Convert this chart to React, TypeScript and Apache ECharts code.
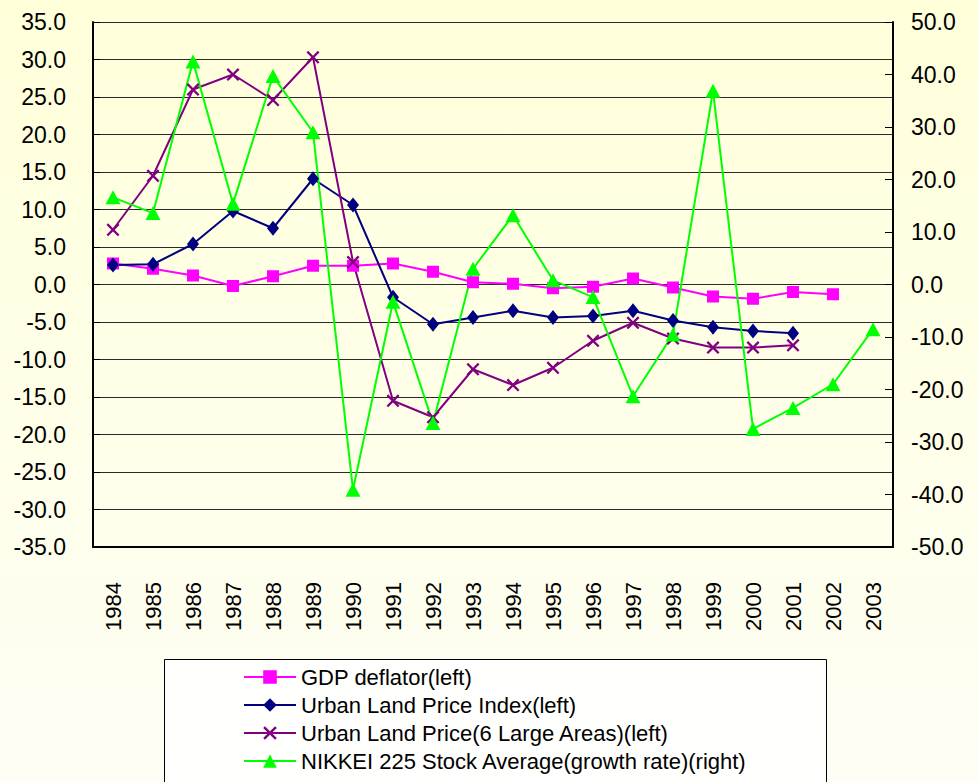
import React, { useEffect, useRef } from "react";
import * as echarts from "echarts";

const years = ["1984","1985","1986","1987","1988","1989","1990","1991","1992","1993","1994","1995","1996","1997","1998","1999","2000","2001","2002","2003"];
const gdpDeflator = [2.8, 2.1, 1.2, -0.2, 1.1, 2.5, 2.5, 2.8, 1.7, 0.3, 0.1, -0.5, -0.3, 0.8, -0.4, -1.6, -1.9, -1.0, -1.3, null];
const landIndex = [2.6, 2.7, 5.4, 9.8, 7.5, 14.1, 10.6, -1.7, -5.3, -4.4, -3.5, -4.4, -4.2, -3.5, -4.8, -5.7, -6.2, -6.5, null, null];
const land6Areas = [7.3, 14.5, 26.0, 28.0, 24.6, 30.3, 3.0, -15.5, -17.7, -11.3, -13.4, -11.1, -7.5, -5.1, -7.2, -8.4, -8.4, -8.1, null, null];
const nikkei = [16.6, 13.6, 42.5, 15.4, 39.7, 29.0, -39.1, -3.3, -26.4, 3.0, 13.2, 0.8, -2.4, -21.3, -9.5, 36.9, -27.5, -23.5, -19.0, -8.5];

const seriesNames = [
  "GDP deflator(left)",
  "Urban Land Price Index(left)",
  "Urban Land Price(6 Large Areas)(left)",
  "NIKKEI 225 Stock Average(growth rate)(right)",
];

const X_PATH = "path://M0,1.5 L1.5,0 L6,4.5 L10.5,0 L12,1.5 L7.5,6 L12,10.5 L10.5,12 L6,7.5 L1.5,12 L0,10.5 L4.5,6 Z";

export default function App() {
  const ref = useRef<HTMLDivElement>(null);
  useEffect(() => {
    document.body.style.margin = "0";
    if (!ref.current) return;
    const chart = echarts.init(ref.current, null, { renderer: "svg" });
    const font = "Liberation Sans, Arial, sans-serif";
    chart.setOption({
      animation: false,
      backgroundColor: {
        type: "linear", x: 0, y: 0, x2: 0, y2: 1,
        colorStops: [
          { offset: 0, color: "#FFFFDA" },
          { offset: 1, color: "#FEFEF5" },
        ],
      },
      textStyle: { fontFamily: font },
      grid: { left: 93, right: 85, top: 22, bottom: 235, containLabel: false },
      graphic: [
        {
          type: "rect",
          left: 164, top: 659,
          shape: { width: 662, height: 140 },
          style: { fill: "#FFFFFD", stroke: "#000", lineWidth: 1 },
          z: 0,
        },
      ],
      legend: {
        orient: "vertical",
        left: 243,
        top: 666,
        itemWidth: 52,
        itemHeight: 17,
        itemGap: 6,
        padding: 0,
        textStyle: { fontSize: 22, color: "#000", fontFamily: font, lineHeight: 22 },
        data: seriesNames,
      },
      xAxis: {
        type: "category",
        data: years,
        boundaryGap: true,
        axisLine: { onZero: false, lineStyle: { color: "#000", width: 2 } },
        axisTick: { inside: true, length: 10, interval: 0, lineStyle: { color: "#000" } },
        axisLabel: { rotate: 90, margin: 35, fontSize: 22, color: "#000", fontFamily: font, interval: 0 },
        splitLine: { show: false },
      },
      yAxis: [
        {
          type: "value",
          min: -35, max: 35, interval: 5,
          position: "left",
          axisLine: { show: true, lineStyle: { color: "#000", width: 2 } },
          axisTick: { show: true, inside: true, length: 7, lineStyle: { color: "#000" } },
          axisLabel: { fontSize: 23, color: "#000", margin: 27, fontFamily: font, formatter: (v: number) => v.toFixed(1) },
          splitLine: { show: true, lineStyle: { color: "#2a2a2a", width: 1 } },
        },
        {
          type: "value",
          min: -50, max: 50, interval: 10,
          position: "right",
          axisLine: { show: true, lineStyle: { color: "#000", width: 2 } },
          axisTick: { show: true, inside: true, length: 8, lineStyle: { color: "#000" } },
          axisLabel: { fontSize: 23, color: "#000", margin: 18, fontFamily: font, formatter: (v: number) => v.toFixed(1) },
          splitLine: { show: false },
        },
      ],
      series: [
        {
          name: seriesNames[0], type: "line", yAxisIndex: 0, data: gdpDeflator,
          color: "#FF00FF", symbol: "rect", symbolSize: 12,
          lineStyle: { width: 2, color: "#FF00FF" }, itemStyle: { color: "#FF00FF" },
        },
        {
          name: seriesNames[1], type: "line", yAxisIndex: 0, data: landIndex,
          color: "#000080", symbol: "diamond", symbolSize: [12, 15],
          lineStyle: { width: 2, color: "#000080" }, itemStyle: { color: "#000080" },
        },
        {
          name: seriesNames[2], type: "line", yAxisIndex: 0, data: land6Areas,
          color: "#800080", symbol: X_PATH, symbolSize: 13,
          lineStyle: { width: 2, color: "#800080" }, itemStyle: { color: "#800080" },
        },
        {
          name: seriesNames[3], type: "line", yAxisIndex: 1, data: nikkei,
          color: "#00FF00", symbol: "triangle", symbolSize: [15, 14],
          lineStyle: { width: 2, color: "#00FF00" }, itemStyle: { color: "#00FF00" },
        },
      ],
    });
    return () => chart.dispose();
  }, []);
  return <div ref={ref} style={{ width: 978, height: 782 }} />;
}
